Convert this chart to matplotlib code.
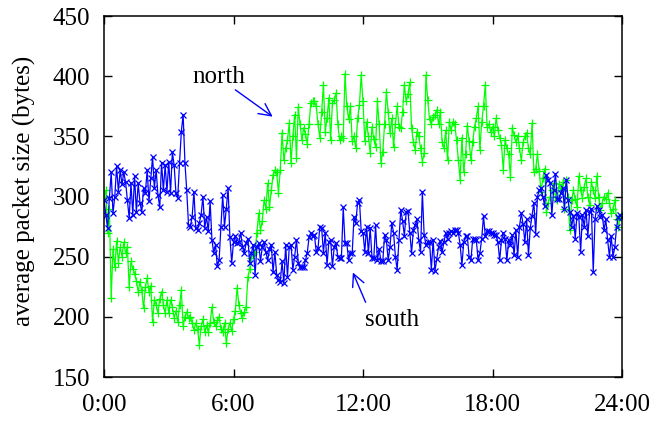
import numpy as np
import matplotlib
matplotlib.use("Agg")
import matplotlib.pyplot as plt

plt.rcParams['font.family'] = ['Liberation Serif', 'DejaVu Serif']

# average packet size, one value every 5 minutes (0:00 .. 24:00)
south = [
    297, 285, 274, 299, 320, 286, 300, 325, 304, 322, 310, 320,
    312, 297, 282, 311, 285, 317, 287, 311, 295, 287, 307, 303,
    322, 296, 315, 333, 307, 322, 301, 291, 328, 305, 326, 304,
    329, 303, 337, 326, 303, 299, 328, 354, 368, 328, 305, 276,
    275, 283, 304, 274, 272, 278, 285, 300, 274, 283, 271, 296,
    264, 253, 260, 242, 247, 275, 301, 275, 290, 307, 266, 245,
    262, 267, 261, 262, 270, 258, 253, 261, 265, 245, 253, 260,
    235, 258, 261, 246, 258, 262, 254, 247, 256, 260, 237, 254,
    235, 231, 229, 246, 228, 260, 233, 258, 260, 239, 250, 264,
    245, 241, 241, 241, 247, 253, 266, 270, 267, 268, 254, 257,
    275, 274, 253, 270, 243, 262, 264, 242, 258, 261, 250, 249,
    249, 291, 261, 261, 247, 253, 253, 283, 278, 295, 297, 271,
    270, 254, 275, 253, 274, 249, 249, 276, 247, 256, 246, 246,
    268, 264, 247, 258, 278, 270, 250, 239, 264, 289, 280, 267,
    287, 288, 270, 253, 272, 276, 281, 264, 254, 304, 268, 260,
    262, 262, 239, 264, 238, 248, 258, 263, 254, 262, 270, 265,
    270, 271, 270, 272, 272, 270, 260, 243, 262, 267, 267, 250,
    247, 265, 265, 264, 247, 253, 265, 284, 267, 271, 271, 270,
    270, 268, 268, 262, 247, 264, 270, 265, 247, 264, 260, 268,
    251, 272, 250, 275, 286, 277, 262, 281, 251, 274, 284, 295,
    269, 300, 305, 307, 300, 292, 318, 314, 311, 285, 305, 319,
    298, 298, 303, 307, 290, 314, 297, 287, 275, 284, 265, 286,
    283, 254, 285, 275, 289, 267, 287, 290, 237, 281, 292, 289,
    283, 285, 272, 281, 264, 250, 267, 250, 258, 275, 283, 285,
    283,
]

north = [
    300, 305, 270, 290, 216, 256, 241, 263, 245, 258, 250, 262,
    253, 258, 225, 246, 240, 236, 230, 221, 229, 222, 207, 225,
    232, 221, 226, 196, 214, 210, 203, 215, 221, 210, 203, 214,
    203, 214, 208, 199, 205, 196, 210, 222, 192, 200, 204, 199,
    200, 195, 189, 195, 190, 177, 192, 198, 187, 193, 187, 195,
    208, 196, 192, 197, 200, 190, 187, 195, 178, 190, 195, 188,
    198, 205, 224, 210, 203, 199, 204, 208, 233, 240, 249, 252,
    254, 270, 286, 272, 280, 297, 290, 311, 291, 305, 318, 322,
    320, 303, 322, 353, 330, 340, 347, 361, 328, 350, 368, 332,
    374, 360, 347, 357, 352, 344, 360, 378, 379, 379, 375, 360,
    349, 370, 393, 354, 365, 382, 347, 378, 380, 386, 360, 347,
    350, 349, 402, 375, 364, 375, 346, 350, 340, 365, 376, 401,
    379, 346, 362, 350, 336, 358, 348, 341, 379, 360, 328, 337,
    360, 387, 370, 353, 365, 341, 360, 375, 358, 357, 370, 393,
    379, 385, 395, 357, 345, 339, 354, 350, 340, 329, 336, 401,
    380, 364, 360, 366, 368, 372, 360, 370, 345, 340, 355, 330,
    362, 355, 362, 360, 347, 330, 314, 349, 320, 335, 359, 346,
    330, 345, 358, 365, 375, 339, 362, 375, 393, 358, 360, 354,
    358, 350, 365, 355, 349, 343, 322, 347, 340, 335, 316, 357,
    351, 345, 350, 340, 330, 345, 350, 353, 340, 335, 361, 320,
    323, 335, 321, 304, 315, 323, 287, 295, 300, 305, 311, 300,
    297, 310, 305, 312, 290, 314, 300, 272, 297, 305, 298, 291,
    317, 305, 299, 308, 315, 300, 293, 312, 305, 299, 317, 300,
    289, 295, 300, 298, 303, 295, 286, 290, 297, 281, 275, 283,
    285,
]

hours = np.arange(len(south)) / 12.0
xticks = [0, 6, 12, 18, 24]
xlabels = ['0:00', '6:00', '12:00', '18:00', '24:00']
yticks = [150, 200, 250, 300, 350, 400, 450]

fig = plt.figure(figsize=(6.55, 4.23), dpi=100)
ax = fig.add_axes([104 / 655, 1 - 377 / 423, 518 / 655, 361 / 423])

ax.plot(hours, north, color='#00ff00', lw=0.9, marker='+', ms=5.5, mew=0.9)
ax.plot(hours, south, color='#0000ff', lw=0.9, marker='x', ms=4.2, mew=0.9)

ax.set_xlim(0, 24)
ax.set_ylim(150, 450)
ax.set_xticks(xticks)
ax.set_xticklabels(xlabels)
ax.set_yticks(yticks)
ax.tick_params(direction='in', length=6, width=1, labelsize=18,
               top=True, right=True)
ax.tick_params(axis='y', pad=10)
ax.tick_params(axis='x', pad=12)
for s in ax.spines.values():
    s.set_linewidth(1.1)

fig.text(24 / 655, 0.548, 'average packet size (bytes)', rotation=90,
         ha='center', va='center', fontsize=18)

arrow = dict(arrowstyle='->', color='#0000ff', lw=1, mutation_scale=22)
ax.annotate('', xy=(7.92, 365), xytext=(5.98, 390), arrowprops=arrow)
ax.text(5.33, 399, 'north', ha='center', va='center', fontsize=18)
ax.annotate('', xy=(11.48, 239), xytext=(12.17, 210), arrowprops=arrow)
ax.text(13.35, 197, 'south', ha='center', va='center', fontsize=18)

fig.savefig('out.png', dpi=100)
